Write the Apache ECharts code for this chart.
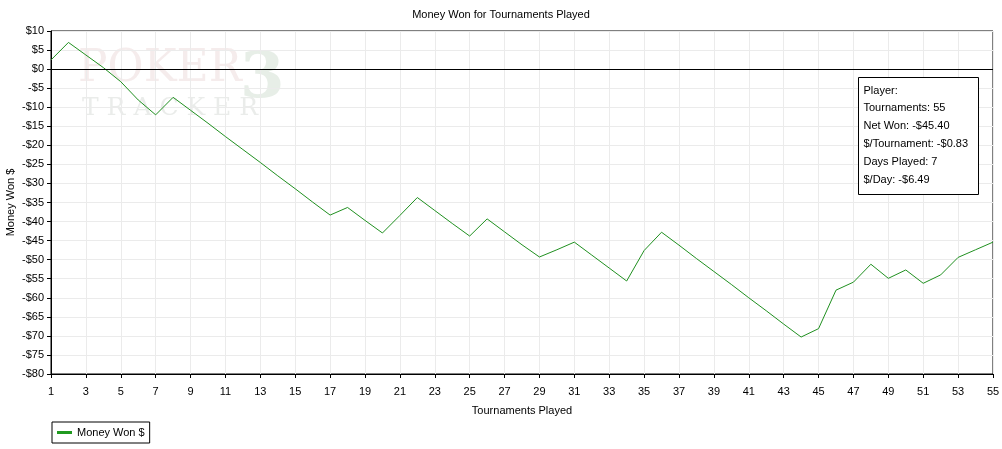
<!DOCTYPE html>
<html>
<head>
<meta charset="utf-8">
<script src="https://cdn.jsdelivr.net/npm/echarts@6/dist/echarts.min.js"></script>
<style>html,body{margin:0;padding:0;background:#fff}#c{width:1002px;height:449px}</style>
</head>
<body>
<div id="c"></div>
<script>
var titleText = 'Money Won for Tournaments Played';
var xName = 'Tournaments Played';
var yName = 'Money Won $';
var seriesName = 'Money Won $';
var tournaments = [];
for (var i = 1; i <= 55; i++) tournaments.push(String(i));
var moneyWon = [
  2.4, 7.0, 3.7, 0.4, -3.3, -8.1, -12.0, -7.4, -10.8, -14.2,
  -17.7, -21.1, -24.5, -28.0, -31.4, -34.9, -38.3, -36.3, -39.7, -43.0,
  -38.4, -33.7, -37.1, -40.5, -43.8, -39.3, -42.7, -46.1, -49.3, -47.4,
  -45.4, -48.8, -52.2, -55.6, -47.6, -42.8, -46.2, -49.7, -53.1, -56.5,
  -60.0, -63.4, -66.9, -70.3, -68.1, -58.0, -55.9, -51.2, -54.9, -52.7,
  -56.2, -54.0, -49.4, -47.4, -45.4
];
var infoLines = ['Player:', 'Tournaments: 55', 'Net Won: -$45.40', '$/Tournament: -$0.83', 'Days Played: 7', '$/Day: -$6.49'];
var yMin = -80, yMax = 10, yStep = 5;

var font = '"Liberation Sans", Arial, sans-serif';
var chart = echarts.init(document.getElementById('c'));
var infoChildren = [{type:'rect', z: 100, shape:{x:0,y:0,width:120,height:117}, style:{fill:'#fff', stroke:'#000', lineWidth:1}}];
infoLines.forEach(function(t, k){
  infoChildren.push({type:'text', z: 101, x:5, y:13 + k*17.8, style:{text:t, fill:'#000', font:'11px ' + font, textVerticalAlign:'middle'}});
});
chart.setOption({
  animation: false,
  backgroundColor: '#fff',
  title: {text: titleText, left: 'center', top: 4, textStyle: {fontFamily: font, fontSize: 11, fontWeight: 'normal', color: '#000'}},
  grid: {left: 51, right: 9, top: 31, bottom: 75, containLabel: false, outerBoundsMode: 'none',
    show: true, borderColor: '#000', borderWidth: 1, backgroundColor: 'transparent'},
  legend: {
    left: 52, top: 422, padding: [5, 5, 5, 5], itemGap: 5,
    borderColor: '#000', borderWidth: 1, backgroundColor: '#fff',
    itemWidth: 15, itemHeight: 3, icon: 'rect',
    textStyle: {fontFamily: font, fontSize: 11, color: '#000'},
    data: [{name: seriesName, itemStyle: {color: '#209a20'}}]
  },
  xAxis: {
    type: 'category', data: tournaments, boundaryGap: false,
    name: xName, nameLocation: 'middle', nameGap: 31,
    nameTextStyle: {fontFamily: font, fontSize: 11, color: '#000'},
    axisLine: {onZero: false, lineStyle: {color: '#000', width: 1}},
    axisTick: {interval: 1, length: 4, lineStyle: {color: '#000'}},
    axisLabel: {interval: 1, margin: 12, fontFamily: font, fontSize: 11, color: '#000'},
    splitLine: {show: true, interval: 1, lineStyle: {color: '#ebebeb', width: 1}}
  },
  yAxis: {
    type: 'value', min: yMin, max: yMax, interval: yStep,
    name: yName, nameLocation: 'middle', nameGap: 35, nameMoveOverlap: false,
    nameTextStyle: {fontFamily: font, fontSize: 11, color: '#000'},
    axisLine: {show: true, lineStyle: {color: '#000', width: 1}},
    axisTick: {show: true, length: 4, lineStyle: {color: '#000'}},
    axisLabel: {margin: 7, fontFamily: font, fontSize: 11, color: '#000',
      formatter: function(v){ return (v < 0 ? '-$' : '$') + Math.abs(v); }},
    splitLine: {show: true, lineStyle: {color: '#ebebeb', width: 1}}
  },
  graphic: [
    {type: 'group', left: 78, top: 48, silent: true, children: [
      {type: 'text', z: -1, x: 0, y: 0, style: {text: 'POKER', fill: 'rgba(200,150,150,0.18)', font: '44px "DejaVu Serif", serif'}},
      {type: 'text', z: -1, x: 162, y: 0, style: {text: '3', fill: 'rgba(120,160,120,0.18)', font: 'bold 64px "DejaVu Serif", serif'}},
      {type: 'text', z: -1, x: 4, y: 48, style: {text: 'T R A C K E R', fill: 'rgba(150,160,150,0.2)', font: '25px "DejaVu Serif", serif'}}
    ]},
    {type: 'group', left: 858, top: 77, children: infoChildren}
  ],
  series: [{
    name: seriesName, type: 'line', data: moneyWon, showSymbol: false,
    lineStyle: {color: '#209020', width: 1}, itemStyle: {color: '#209a20'},
    markLine: {silent: true, symbol: ['none', 'none'], label: {show: false},
      lineStyle: {color: '#000', type: 'solid', width: 1}, data: [{yAxis: 0}]}
  }]
});
</script>
</body>
</html>
